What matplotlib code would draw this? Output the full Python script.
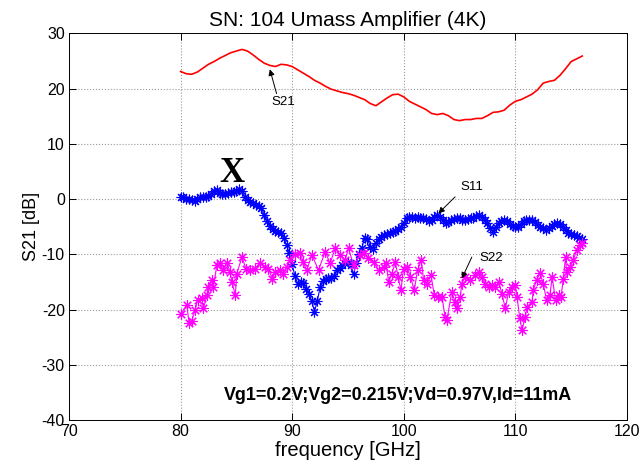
import numpy as np
import matplotlib.pyplot as plt

plt.rcParams['font.family'] = ['Liberation Sans', 'DejaVu Sans']
plt.rcParams['axes.unicode_minus'] = False

# S21 gain, 0.5 GHz steps from 80 to 116 GHz
s21_db = [23.1, 22.7, 22.6, 23.0, 23.7, 24.4, 24.9, 25.5, 26.0, 26.5,
          26.8, 27.1, 26.8, 26.1, 25.3, 24.6, 24.2, 24.0, 24.4, 24.3,
          24.0, 23.4, 22.8, 22.2, 21.5, 21.0, 20.4, 19.9, 19.6, 19.3,
          19.1, 18.8, 18.4, 18.0, 17.3, 16.9, 17.6, 18.3, 18.9, 19.0,
          18.5, 17.7, 17.2, 16.7, 16.2, 15.5, 15.3, 15.5, 15.1, 14.4,
          14.2, 14.4, 14.4, 14.6, 14.6, 15.1, 15.7, 15.8, 16.1, 17.0,
          17.7, 18.0, 18.5, 19.0, 19.8, 21.0, 21.3, 21.5, 22.4, 23.6,
          24.9, 25.4, 25.9]

# S11 input match, 0.25 GHz steps from 80 to 116 GHz
s11_db = [0.4, 0.3, 0.1, 0.0, -0.2, -0.3, 0.0, 0.4, 0.3, 0.4,
          0.6, 1.0, 1.5, 1.7, 1.1, 0.9, 1.0, 1.1, 1.3, 1.2,
          1.5, 1.9, 1.4, 0.3, -0.2, -0.5, -0.8, -1.0, -1.3, -1.7,
          -2.9, -4.0, -4.8, -5.4, -5.7, -5.9, -6.2, -7.0, -8.3, -9.8,
          -11.8, -14.0, -15.3, -15.0, -15.2, -16.3, -17.2, -18.4, -20.4, -18.5,
          -16.0, -14.8, -14.4, -14.3, -14.2, -14.0, -12.9, -12.4, -11.9, -11.5,
          -11.4, -12.0, -13.6, -11.6, -10.0, -8.8, -7.0, -7.2, -8.6, -9.0,
          -8.0, -7.3, -6.8, -6.5, -6.4, -6.2, -6.0, -5.7, -5.4, -5.0,
          -4.3, -3.5, -3.2, -3.2, -3.4, -3.3, -3.4, -3.5, -3.6, -3.9,
          -3.7, -3.2, -2.9, -3.2, -3.7, -4.3, -4.2, -3.8, -3.6, -3.5,
          -3.5, -3.7, -3.8, -3.6, -3.5, -3.4, -3.1, -2.9, -3.2, -3.7,
          -4.4, -5.3, -6.0, -5.0, -4.3, -3.9, -3.8, -4.0, -4.5, -4.9,
          -5.1, -5.0, -4.5, -3.9, -3.7, -3.7, -3.8, -4.2, -4.7, -5.0,
          -5.3, -5.6, -5.3, -4.9, -4.6, -4.3, -4.5, -5.1, -5.6, -6.1,
          -6.3, -6.5, -6.7, -7.0, -7.2]

# S22 output match
s22_freq = [80.04, 80.56, 80.76, 81.0, 81.3, 81.54, 81.9, 82.05, 82.35, 82.5,
            82.8, 82.94, 83.25, 83.54, 83.84, 84.14, 84.44, 84.6, 84.9, 85.04,
            85.5, 85.85, 86.23, 86.68, 87.1, 87.58, 87.87, 88.23, 88.47, 88.92,
            89.2, 89.52, 89.8, 90.27, 90.7, 91.0, 91.3, 91.77, 92.36, 92.96,
            93.4, 93.86, 94.3, 94.75, 95.05, 95.5, 96.1, 96.4, 96.84, 97.3,
            97.74, 98.2, 98.43, 98.64, 98.94, 99.24, 99.5, 99.75, 99.98, 100.3,
            100.6, 100.94, 101.24, 101.57, 101.78, 102.1, 102.44, 102.74, 103.1, 103.43,
            103.7, 103.87, 104.3, 104.6, 104.77, 105.07, 105.2, 105.5, 105.96, 106.4,
            106.7, 107.0, 107.3, 107.6, 107.9, 108.2, 108.5, 108.8, 109.1, 109.4,
            109.7, 110.0, 110.15, 110.4, 110.6, 110.9, 111.05, 111.5, 111.6, 111.9,
            112.2, 112.5, 112.8, 113.1, 113.3, 113.6, 113.9, 114.1, 114.3, 114.5,
            114.6, 114.9, 115.2, 115.5, 115.8, 116.0]
s22_db = [-20.8, -19.2, -22.5, -22.0, -20.1, -18.2, -18.0, -19.8, -17.4, -15.9,
          -14.7, -15.9, -12.0, -11.65, -12.9, -11.5, -13.2, -15.0, -17.4, -13.5,
          -10.5, -12.6, -12.9, -12.6, -11.5, -12.3, -12.6, -14.5, -13.2, -12.9,
          -13.5, -12.3, -11.05, -9.96, -9.8, -11.4, -12.9, -10.1, -12.9, -9.5,
          -11.65, -8.9, -10.1, -11.05, -8.9, -11.96, -10.1, -9.8, -10.7, -11.4,
          -12.9, -12.3, -11.65, -15.0, -13.5, -11.4, -14.1, -16.5, -12.6, -12.3,
          -14.1, -16.5, -12.9, -11.05, -14.7, -15.3, -13.8, -17.4, -17.7, -17.7,
          -21.3, -21.9, -16.8, -18.6, -19.8, -17.7, -15.3, -14.1, -14.7, -13.8,
          -13.2, -14.1, -15.3, -15.9, -15.6, -15.9, -15.0, -17.1, -19.8, -16.8,
          -15.9, -15.6, -17.7, -21.6, -23.7, -21.3, -19.5, -18.6, -16.5, -14.7,
          -13.35, -15.3, -18.3, -17.4, -14.1, -18.3, -17.4, -17.7, -14.4, -10.45,
          -13.2, -12.3, -11.05, -9.2, -8.3, -8.0]

s21_freq = np.linspace(80, 116, len(s21_db))
s11_freq = np.linspace(80, 116, len(s11_db))

bias_text = 'Vg1=0.2V;Vg2=0.215V;Vd=0.97V,Id=11mA'

# 8-spoke asterisk marker
star = (8, 2, 0)

fig = plt.figure(figsize=(6.42, 4.69), dpi=100)
ax = fig.add_axes([0.1075, 0.1045, 0.869, 0.8243])

ax.plot(s21_freq, s21_db, color='red', linewidth=1.2)
ax.plot(s11_freq, s11_db, color='blue', linewidth=0.8, marker=star,
        markersize=7, markeredgewidth=0.8)
ax.plot(s22_freq, s22_db, color='magenta', linewidth=0.8, marker=star,
        markersize=7.5, markeredgewidth=0.8)

ax.set_xlim(70, 120)
ax.set_ylim(-40, 30)
ax.set_xticks(np.arange(70, 121, 10))
ax.set_yticks(np.arange(-40, 31, 10))
ax.grid(True, linestyle=':', color='#999999', linewidth=0.8)
ax.tick_params(direction='in', length=5, width=0.7, top=True, right=True,
               labelsize=11.5, pad=3)
for s in ax.spines.values():
    s.set_linewidth(0.7)

ax.set_title('SN: 104 Umass Amplifier (4K)', fontsize=15, pad=5)
ax.set_xlabel('frequency [GHz]', fontsize=14.5, labelpad=1)
ax.set_ylabel('S21 [dB]', fontsize=13, labelpad=1)

# trace labels with pointers
arrow = dict(arrowstyle='-|>', color='black', lw=0.7, mutation_scale=9,
             shrinkA=0, shrinkB=0)
ax.text(89.2, 17.6, 'S21', fontsize=9.5, ha='center', va='center')
ax.annotate('', xy=(88.0, 23.5), xytext=(88.6, 19.1), arrowprops=arrow)
ax.text(106.1, 2.1, 'S11', fontsize=9.5, ha='center', va='center')
ax.annotate('', xy=(103.1, -2.6), xytext=(104.6, 0.4), arrowprops=arrow)
ax.text(107.8, -10.7, 'S22', fontsize=9.5, ha='center', va='center')
ax.annotate('', xy=(105.2, -14.4), xytext=(106.1, -10.5), arrowprops=arrow)

ax.text(84.57, 4.6, 'X', fontsize=25, fontweight='bold',
        family='Liberation Serif', ha='center', va='center')
ax.text(83.84, -35.5, bias_text, fontsize=12.9, fontweight='bold',
        ha='left', va='center')

fig.savefig('out.png', dpi=100)
